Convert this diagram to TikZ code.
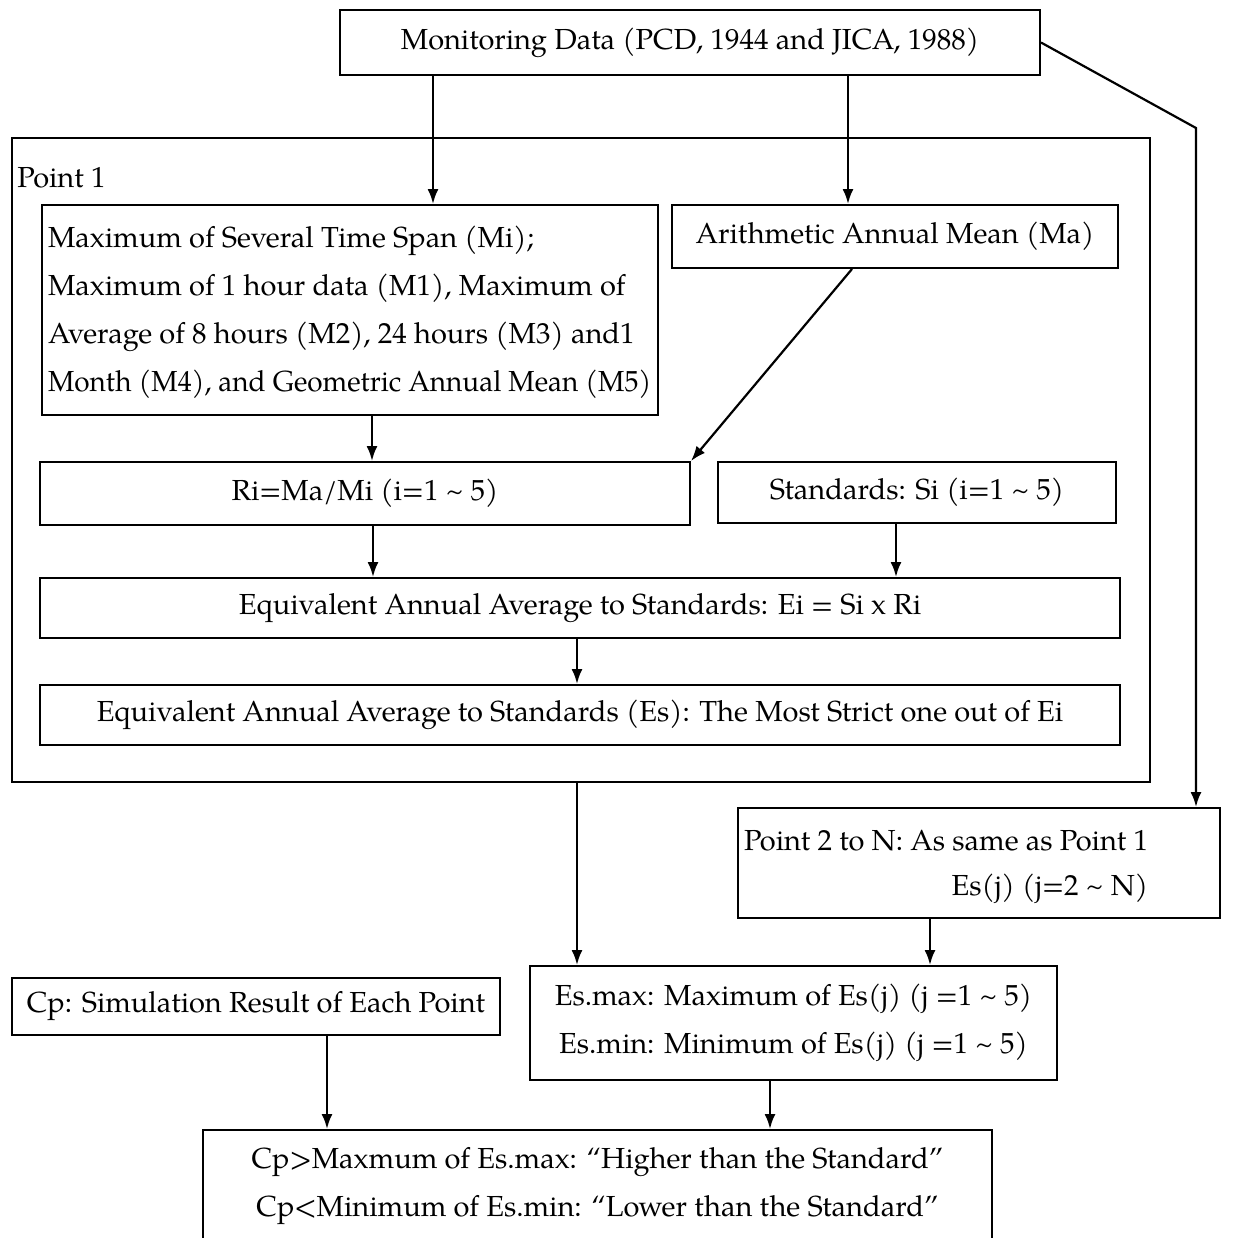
\documentclass[tikz,border=0pt]{standalone}
\usepackage{fontspec}
\usepackage{graphicx}
\setmainfont{TeX Gyre Pagella}
\usetikzlibrary{arrows.meta,calc}
\begin{document}
\begin{tikzpicture}[x=0.5pt,y=-0.5pt,
  txt/.style={font=\fontsize{14.5}{24}\selectfont},
  box/.style={draw,line width=1pt,inner sep=3pt,txt},
  arr/.style={line width=1.1pt,-{Latex[length=7.5pt,width=5.5pt]}}]
\useasboundingbox (0,0) rectangle (1236,1238);

% source data
\node[box,minimum width=350pt,minimum height=32.5pt] (mon) at (690,42.5)
  {Monitoring Data (PCD, 1944 and JICA, 1988)};

% frame for the first monitoring point
\node[draw,line width=1.2pt,minimum width=569pt,minimum height=322pt,inner sep=0] (p1) at (581,460) {};
\node[txt,anchor=west,inner sep=0] (p1lab) at (17,178) {Point 1};

\node[box,minimum width=308pt,minimum height=105pt] (mi) at (350,310)
  {\makebox[302pt][l]{\begin{tabular}{@{}l@{}}Maximum of Several Time Span (Mi);\\
   Maximum of 1 hour data (M1), Maximum of\\
   Average of 8 hours (M2), 24 hours (M3) and1\\
   \scalebox{0.963}[1]{Month (M4), and Geometric Annual Mean (M5)}\end{tabular}}};
\node[box,minimum width=223pt,minimum height=31.5pt] (ma) at (895,236.5)
  {Arithmetic Annual Mean (Ma)};
\node[box,minimum width=325pt,minimum height=31.5pt] (ri) at (365,493.5)
  {Ri=Ma/Mi (i=1 \textasciitilde{} 5)};
\node[box,minimum width=199pt,minimum height=30.5pt] (si) at (917,492.5)
  {Standards: Si (i=1 \textasciitilde{} 5)};
\node[box,minimum width=540pt,minimum height=30pt] (ei) at (580,608)
  {Equivalent Annual Average to Standards: Ei = Si x Ri};
\node[box,minimum width=540pt,minimum height=30pt] (es) at (580,715)
  {Equivalent Annual Average to Standards (Es): The Most Strict one out of Ei};

% other points and comparison
\node[box,minimum width=241pt,minimum height=55pt] (p2) at (979,863)
  {\makebox[235pt][l]{\begin{tabular}{@{}r@{}}Point 2 to N: As same as Point 1\\[-1.5pt]
   Es(j) (j=2 \textasciitilde{} N)\end{tabular}}};
\node[box,align=center,minimum width=263.5pt,minimum height=57pt] (esm) at (793.5,1023)
  {Es.max: Maximum of Es(j) (j =1 \textasciitilde{} 5)\\
   Es.min: Minimum of Es(j) (j =1 \textasciitilde{} 5)};
\node[box,minimum width=244pt,minimum height=28.5pt] (cp) at (256,1006.5)
  {Cp: Simulation Result of Each Point};
\node[box,align=center,minimum width=394.5pt,minimum height=56pt] (fin) at (597.5,1186)
  {Cp>Maxmum of Es.max: “Higher than the Standard”\\
   Cp<Minimum of Es.min: “Lower than the Standard”};

% connector columns
\coordinate (xa) at (433,0);
\coordinate (xb) at (848,0);
\coordinate (xc) at (372,0);
\coordinate (xd) at (373,0);
\coordinate (xe) at (896,0);
\coordinate (xf) at (577,0);
\coordinate (xg) at (930,0);
\coordinate (xh) at (327,0);
\coordinate (xk) at (770,0);
\coordinate (bend) at (1196,128);

\draw[arr] (xa |- mon.south) -- (xa |- mi.north);
\draw[arr] (xb |- mon.south) -- (xb |- ma.north);
\draw[arr] (mon.east) -- (bend) -- (bend |- p2.north);
\draw[arr] (xc |- mi.south) -- (xc |- ri.north);
\draw[arr] ($(ma.south)+(-43,0)$) -- (ri.north east);
\draw[arr] (xd |- ri.south) -- (xd |- ei.north);
\draw[arr] (xe |- si.south) -- (xe |- ei.north);
\draw[arr] (xf |- ei.south) -- (xf |- es.north);
\draw[arr] (xf |- p1.south) -- (xf |- esm.north);
\draw[arr] (xg |- p2.south) -- (xg |- esm.north);
\draw[arr] (xh |- cp.south) -- (xh |- fin.north);
\draw[arr] (xk |- esm.south) -- (xk |- fin.north);
\end{tikzpicture}
\end{document}
